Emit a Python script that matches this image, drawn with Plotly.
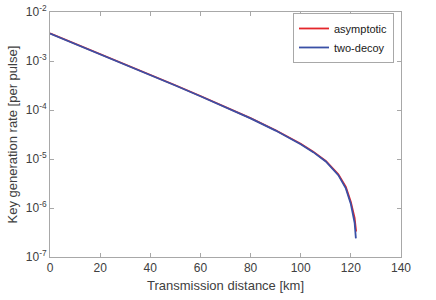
import plotly.graph_objects as go

# Data: distance [km] and log10 of key rate
dist_blue = [0, 10, 20, 30, 40, 50, 60, 70, 80, 90, 100, 105, 110, 115, 118, 120, 121, 121.5, 122]
log_blue = [-2.44, -2.65, -2.86, -3.07, -3.29, -3.50, -3.72, -3.95, -4.17, -4.42, -4.70, -4.86,
            -5.05, -5.33, -5.60, -5.92, -6.15, -6.30, -6.62]
dist_red = [0, 10, 20, 30, 40, 50, 60, 70, 80, 90, 100, 105, 110, 115, 118, 120, 121, 121.5, 122.1]
log_red = [-2.435, -2.645, -2.855, -3.065, -3.285, -3.495, -3.715, -3.945, -4.165, -4.413, -4.69,
           -4.85, -5.04, -5.31, -5.57, -5.88, -6.08, -6.20, -6.48]

rate_blue = [10 ** v for v in log_blue]
rate_red = [10 ** v for v in log_red]

x_ticks = [0, 20, 40, 60, 80, 100, 120, 140]
y_exps = [-2, -3, -4, -5, -6, -7]
y_ticks = [10 ** e for e in y_exps]
y_ticktext = ["10<sup>%d</sup>" % e for e in y_exps]

FONT = "Liberation Sans, Arial"
TXT = "#404040"

fig = go.Figure()
fig.add_trace(go.Scatter(x=dist_red, y=rate_red, mode="lines", name="asymptotic",
                         line=dict(color="#e4262b", width=1.8)))
fig.add_trace(go.Scatter(x=dist_blue, y=rate_blue, mode="lines", name="two-decoy",
                         line=dict(color="#3a50a6", width=1.8)))

axis_common = dict(showgrid=False, zeroline=False, showline=True, linecolor="#a8a8a8",
                   linewidth=1, mirror="ticks", ticks="inside", ticklen=4, tickcolor="#a8a8a8",
                   automargin=False, ticklabeloverflow="allow",
                   tickfont=dict(family=FONT, size=12, color=TXT))

fig.update_layout(
    width=436, height=300,
    margin=dict(l=50, r=35, t=12, b=43),
    plot_bgcolor="white", paper_bgcolor="white",
    font=dict(family=FONT, size=12, color=TXT),
    xaxis=dict(range=[0, 140], tickvals=x_ticks, **axis_common),
    yaxis=dict(type="log", range=[-7, -2], tickvals=y_ticks, ticktext=y_ticktext, **axis_common),
    legend=dict(x=0.98, y=0.996, xanchor="right", yanchor="top", bgcolor="white",
                bordercolor="#a8a8a8", borderwidth=1, font=dict(family=FONT, size=11, color="#202020"),
                tracegroupgap=0, itemwidth=30),
    showlegend=True,
    annotations=[
        dict(text="Transmission distance [km]", xref="paper", yref="paper", x=0.5, y=0,
             xanchor="center", yanchor="middle", yshift=-28, showarrow=False,
             font=dict(family=FONT, size=13, color=TXT)),
        dict(text="Key generation rate [per pulse]", xref="paper", yref="paper", x=0, y=0.5,
             xanchor="center", yanchor="middle", xshift=-38, textangle=-90, showarrow=False,
             font=dict(family=FONT, size=13, color=TXT)),
    ],
)

fig.write_html("out.html", config={"displayModeBar": False},
               post_script="document.body.style.margin='0';")
